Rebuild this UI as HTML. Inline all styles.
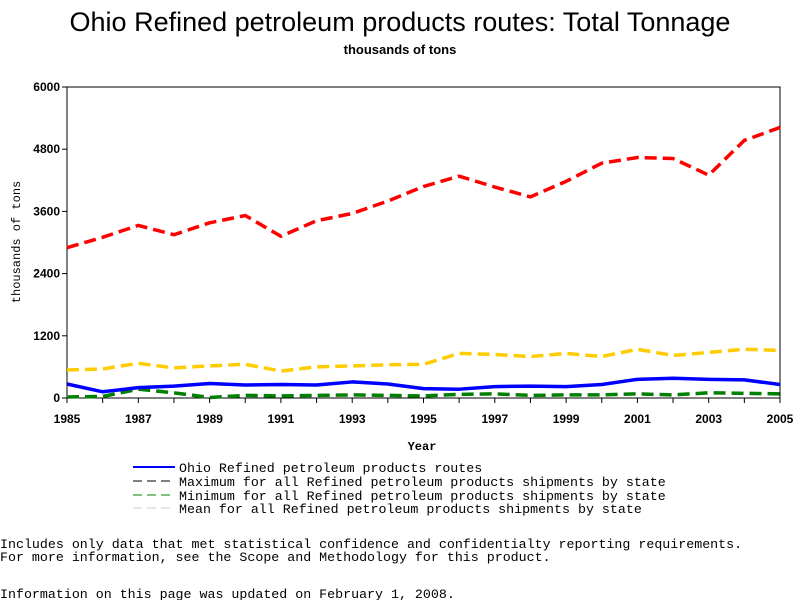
<!DOCTYPE html>
<html><head><meta charset="utf-8"><style>
body{margin:0;background:#fff;width:800px;height:600px;overflow:hidden}
svg{display:block}
</style></head><body>
<svg id="chart" width="800" height="600" xmlns="http://www.w3.org/2000/svg">
<text x="400" y="31" text-anchor="middle" font-family="Liberation Sans, sans-serif" font-size="27">Ohio Refined petroleum products routes: Total Tonnage</text>
<text x="400" y="54" text-anchor="middle" font-family="Liberation Sans, sans-serif" font-size="13" font-weight="bold">thousands of tons</text>
<rect x="67" y="87" width="713" height="311" fill="none" stroke="#000"/>
<g id="axes"></g>
<g id="series"></g>
<text x="422" y="450" text-anchor="middle" font-family="Liberation Mono, monospace" font-size="12" font-weight="bold">Year</text>
<text transform="translate(20,242) rotate(-90)" text-anchor="middle" font-family="Liberation Mono, monospace" font-size="12">thousands of tons</text>
<g font-family="Liberation Mono, monospace" font-size="13.3">
<g><line x1="133" y1="467" x2="175" y2="467" stroke="#0000ff" stroke-width="2"/><text x="179" y="472">Ohio Refined petroleum products routes</text></g>
<g><line x1="133" y1="481" x2="175" y2="481" stroke="#000" stroke-width="1" stroke-dasharray="9,5"/><text x="179" y="486">Maximum for all Refined petroleum products shipments by state</text></g>
<g><line x1="133" y1="495" x2="175" y2="495" stroke="#008000" stroke-width="1" stroke-dasharray="9,5"/><text x="179" y="500">Minimum for all Refined petroleum products shipments by state</text></g>
<g><line x1="133" y1="508" x2="175" y2="508" stroke="#ccc" stroke-width="1" stroke-dasharray="9,5"/><text x="179" y="513">Mean for all Refined petroleum products shipments by state</text></g>
</g>
<g font-family="Liberation Mono, monospace" font-size="13.3">
<text x="0" y="548">Includes only data that met statistical confidence and confidentialty reporting requirements.</text>
<text x="0" y="561">For more information, see the Scope and Methodology for this product.</text>
<text x="0" y="598">Information on this page was updated on February 1, 2008.</text>
</g>
</svg>
<script>
const years=[1985,1986,1987,1988,1989,1990,1991,1992,1993,1994,1995,1996,1997,1998,1999,2000,2001,2002,2003,2004,2005];
const maxVals=[2900,3100,3330,3150,3380,3520,3120,3420,3560,3800,4080,4280,4070,3880,4180,4530,4640,4620,4300,4970,5220];
const meanVals=[540,560,670,580,620,650,520,600,620,640,650,860,840,800,860,800,940,820,880,940,920];
const ohioVals=[270,120,200,230,280,250,260,250,310,270,180,170,220,230,220,260,360,380,360,350,260];
const minVals=[20,30,170,100,10,50,40,50,60,50,40,70,80,50,60,60,80,60,100,90,80];
const yTicks=[0,1200,2400,3600,4800,6000];
const xTicks=[1985,1987,1989,1991,1993,1995,1997,1999,2001,2003,2005];
const NS='http://www.w3.org/2000/svg';
const X=y=>67+(y-1985)*(713/20);
const Y=v=>398-v*(311/6000);
const axes=document.getElementById('axes');
function mk(tag,attrs,parent){const e=document.createElementNS(NS,tag);for(const k in attrs)e.setAttribute(k,attrs[k]);parent.appendChild(e);return e;}
yTicks.forEach(t=>{
  const l=mk('line',{x1:62,x2:67,y1:Y(t),y2:Y(t),stroke:'#000'},axes);
  
  
  const tx=mk('text',{x:60,y:Y(t)+4,'text-anchor':'end','font-family':'Liberation Sans, sans-serif','font-size':'12','font-weight':'bold'},axes);
  tx.textContent=t;
  
  
});
years.forEach(y=>{
  const l=mk('line',{x1:X(y),x2:X(y),y1:398,y2:403,stroke:'#000'},axes);
  
  
});
xTicks.forEach(y=>{
  const tx=mk('text',{x:X(y),y:423,'text-anchor':'middle','font-family':'Liberation Sans, sans-serif','font-size':'12','font-weight':'bold'},axes);
  tx.textContent=y;
  
  
});
const g=document.getElementById('series');
function line(vals,color,dash,name){
  const p=mk('polyline',{points:vals.map((v,i)=>X(years[i])+','+Y(v)).join(' '),fill:'none',stroke:color,'stroke-width':3.5,'stroke-linejoin':'round'},g);
  if(dash)p.setAttribute('stroke-dasharray',dash);
  
  
}
line(meanVals,'#ffcc00','12,6','mean-line');
line(maxVals,'#ff0000','12,6','max-line');
line(minVals,'#008000','12,6','min-line');
line(ohioVals,'#0000ff',null,'ohio-line');
</script>
</body></html>
